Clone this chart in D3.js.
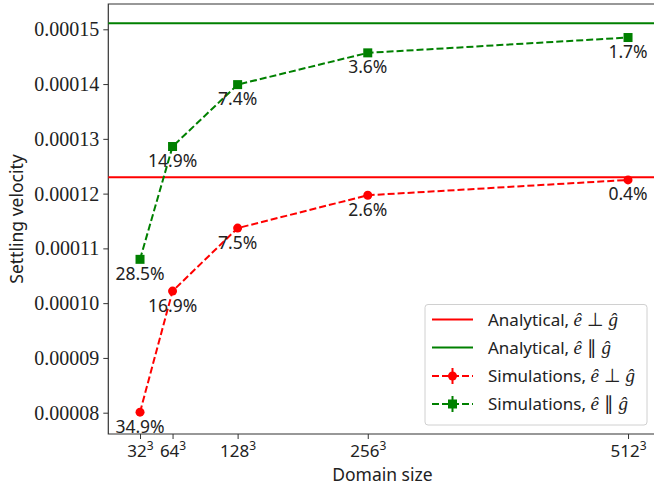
<!DOCTYPE html>
<html>
<head>
<meta charset="utf-8">
<script src="https://cdn.jsdelivr.net/npm/d3@7"></script>
<style>
  body { margin: 0; background: #fff; }
  svg { display: block; }
  .ytick text { font-family: 'Liberation Serif', 'Times New Roman', serif !important; }
</style>
</head>
<body>
<svg id="chart" width="654" height="489"></svg>
<script>
// Settling velocity vs domain size, analytical vs simulated

///// DATA /////
const sizes = [32, 64, 128, 256, 512];
const tickSizes = [32, 64, 128, 256, 512];
const yTicks = [0.00008, 0.00009, 0.00010, 0.00011, 0.00012, 0.00013, 0.00014, 0.00015];
const perpAnalytical = 0.0001230;
const parAnalytical = 0.0001511;
const perpSim = [0.0000801, 0.0001022, 0.0001137, 0.0001197, 0.0001225];
const parSim = [0.0001080, 0.0001286, 0.0001399, 0.0001457, 0.0001485];
const perpErr = ["34.9%", "16.9%", "7.5%", "2.6%", "0.4%"];
const parErr = ["28.5%", "14.9%", "7.4%", "3.6%", "1.7%"];

const RED = "#ff0000", GREEN = "#008000";
const sans = "'Noto Sans', sans-serif";
const serif = "'Liberation Serif', serif";

let svg = d3.select("#chart");

///// SCALES /////
let x = d3.scaleLinear().domain([0.8, 540]).range([108.3, 656.5]);
let y = d3.scaleLinear().domain([0.00007611, 0.00015462]).range([434, 4]);

let axLeft = x.range()[0], axRight = x.range()[1];
let axTop = y.range()[1], axBottom = y.range()[0];

///// AXES /////
let yAxis = svg.append("g")
    .attr("class", "ytick")
    .attr("transform", "translate(" + axLeft + ",0)")
    .call(d3.axisLeft(y).tickValues(yTicks).tickFormat(d3.format(".5f")).tickSize(5).tickPadding(4))
    .attr("font-family", serif)
    .attr("font-size", 20);
yAxis.select(".domain").remove();
yAxis.selectAll("line").attr("stroke", "#333");
yAxis.selectAll("text").attr("fill", "#222");

let xAxis = svg.append("g")
    .attr("transform", "translate(0," + axBottom + ")")
    .call(d3.axisBottom(x).tickValues(tickSizes).tickFormat("").tickSize(5));
xAxis.select(".domain").remove();
xAxis.selectAll("line").attr("stroke", "#333");
xAxis.selectAll(".tick").append("text")
    .attr("y", 23)
    .attr("text-anchor", "middle")
    .attr("fill", "#222")
    .style("font-family", sans)
    .style("font-size", "17px")
    .each(function(d) {
        let t = d3.select(this);
        t.append("tspan").text(d);
        t.append("tspan").attr("dy", -7).style("font-size", "12px").text("3");
    });

// frame (right spine falls outside the picture)
svg.append("path")
    .attr("d", "M" + axRight + "," + axTop + "H" + axLeft + "V" + axBottom + "H" + axRight)
    .attr("fill", "none")
    .attr("stroke", "#333")
    .attr("stroke-width", 1.2);

// axis titles
svg.append("text")
    .attr("transform", "translate(23," + ((axTop + axBottom) / 2) + ") rotate(-90)")
    .attr("text-anchor", "middle")
    .attr("fill", "#222")
    .style("font-family", sans)
    .style("font-size", "17.5px")
    .text("Settling velocity");

svg.append("text")
    .attr("x", (axLeft + axRight) / 2)
    .attr("y", 481)
    .attr("text-anchor", "middle")
    .attr("fill", "#222")
    .style("font-family", sans)
    .style("font-size", "17.5px")
    .text("Domain size");

///// ANALYTICAL LINES /////
[[perpAnalytical, RED], [parAnalytical, GREEN]].forEach(function(a) {
    svg.append("line")
        .attr("x1", axLeft).attr("x2", axRight)
        .attr("y1", y(a[0])).attr("y2", y(a[0]))
        .attr("stroke", a[1])
        .attr("stroke-width", 2);
});

///// SIMULATIONS /////
let line = d3.line().x(d => x(d.n)).y(d => y(d.v));
let perpData = sizes.map((n, i) => ({n: n, v: perpSim[i], label: perpErr[i]}));
let parData = sizes.map((n, i) => ({n: n, v: parSim[i], label: parErr[i]}));

[[perpData, RED, "circle"], [parData, GREEN, "square"]].forEach(function(s) {
    let data = s[0], color = s[1], shape = s[2];
    svg.append("path")
        .datum(data)
        .attr("d", line)
        .attr("fill", "none")
        .attr("stroke", color)
        .attr("stroke-width", 2)
        .attr("stroke-dasharray", "7,3");

    if (shape === "circle") {
        svg.selectAll(null).data(data).enter().append("circle")
            .attr("cx", d => x(d.n)).attr("cy", d => y(d.v))
            .attr("r", 4.5).attr("fill", color);
    } else {
        svg.selectAll(null).data(data).enter().append("rect")
            .attr("x", d => x(d.n) - 4.5).attr("y", d => y(d.v) - 4.5)
            .attr("width", 9).attr("height", 9).attr("fill", color);
    }

    svg.selectAll(null).data(data).enter().append("text")
        .attr("x", d => x(d.n))
        .attr("y", d => y(d.v) + 20.5)
        .attr("text-anchor", "middle")
        .attr("fill", "#222")
        .style("font-family", sans)
        .style("font-size", "17.5px")
        .text(d => d.label);
});

///// LEGEND /////
let legend = svg.append("g");
legend.append("rect")
    .attr("x", 425).attr("y", 304.5)
    .attr("width", 222).attr("height", 120.5)
    .attr("rx", 3)
    .attr("fill", "white").attr("fill-opacity", 0.85)
    .attr("stroke", "#d0d0d0");

let legendItems = [
    {name: "Analytical, ", rel: "⊥", color: RED, dashed: false, shape: null},
    {name: "Analytical, ", rel: "∥", color: GREEN, dashed: false, shape: null},
    {name: "Simulations, ", rel: "⊥", color: RED, dashed: true, shape: "circle"},
    {name: "Simulations, ", rel: "∥", color: GREEN, dashed: true, shape: "square"}
];
let rowY = [319.5, 347.5, 376, 404];

legendItems.forEach(function(it, i) {
    let cy = rowY[i];
    legend.append("line")
        .attr("x1", 432).attr("x2", 473)
        .attr("y1", cy).attr("y2", cy)
        .attr("stroke", it.color).attr("stroke-width", 2)
        .attr("stroke-dasharray", it.dashed ? "7,3" : null);
    if (it.shape) {
        legend.append("line")
            .attr("x1", 452.5).attr("x2", 452.5)
            .attr("y1", cy - 8).attr("y2", cy + 8)
            .attr("stroke", it.color).attr("stroke-width", 2);
        if (it.shape === "circle") {
            legend.append("circle").attr("cx", 452.5).attr("cy", cy).attr("r", 4.5).attr("fill", it.color);
        } else {
            legend.append("rect").attr("x", 448).attr("y", cy - 4.5).attr("width", 9).attr("height", 9).attr("fill", it.color);
        }
    }
    let t = legend.append("text")
        .attr("x", 488).attr("y", cy + 6)
        .attr("fill", "#222")
        .style("font-family", sans)
        .style("font-size", "17px");
    t.append("tspan").text(it.name);
    t.append("tspan").style("font-family", serif).style("font-size", "19px").style("font-style", "italic").text("ê");
    t.append("tspan").style("font-family", serif).style("font-size", "19px").text(" " + it.rel + " ");
    t.append("tspan").style("font-family", serif).style("font-size", "19px").style("font-style", "italic").text("ĝ");
});
</script>
</body>
</html>
